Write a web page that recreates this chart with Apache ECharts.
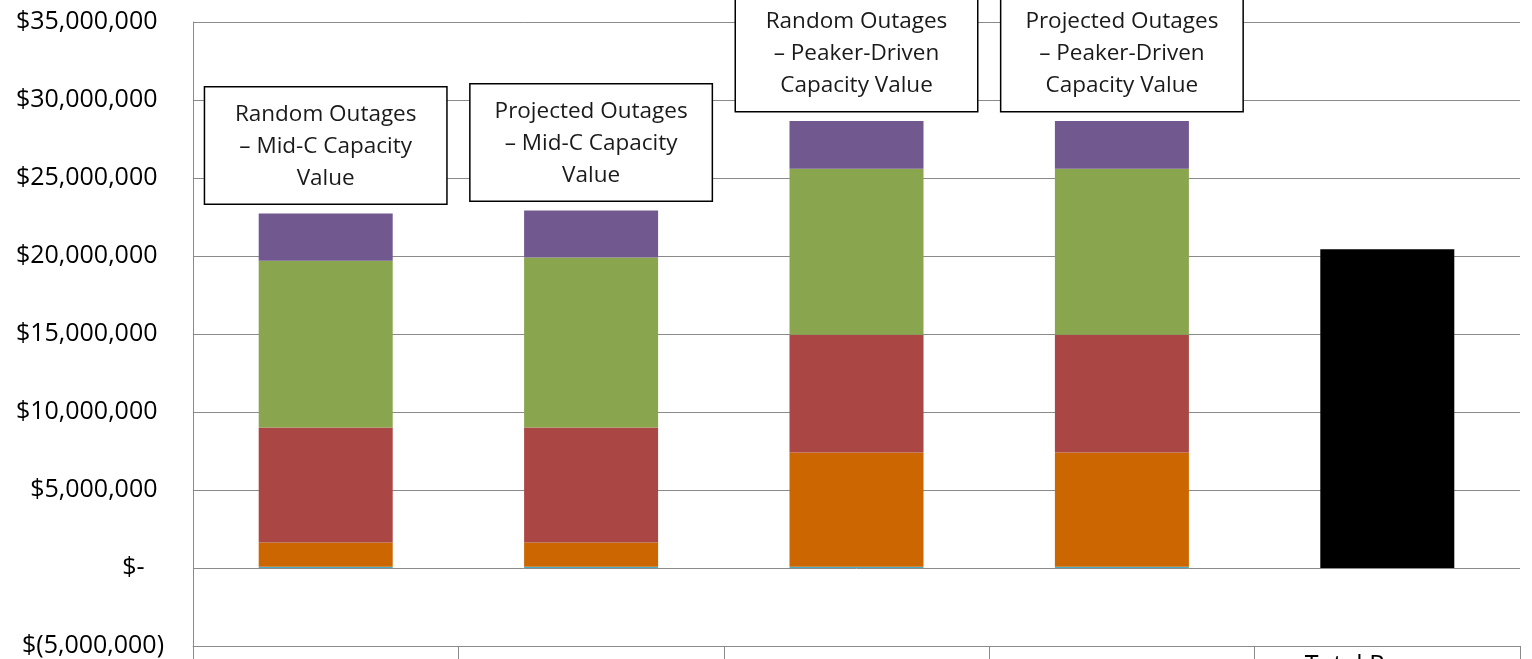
<!DOCTYPE html>
<html>
<head>
<meta charset="utf-8">
<script src="https://cdn.jsdelivr.net/npm/echarts@6/dist/echarts.min.js"></script>
<style>
  html, body { margin: 0; padding: 0; background: #fff; }
  #chart { width: 1532px; height: 659px; }
</style>
</head>
<body>
<div id="chart"></div>
<script>
// Scenario columns; the four stacked ones carry a boxed caption above the bar.
const categories = [
  'Random Outages – Mid-C Capacity Value',
  'Projected Outages – Mid-C Capacity Value',
  'Random Outages – Peaker-Driven Capacity Value',
  'Projected Outages – Peaker-Driven Capacity Value',
  'Total Revenue'
];
const captions = [
  'Random Outages\n– Mid-C Capacity\nValue',
  'Projected Outages\n– Mid-C Capacity\nValue',
  'Random Outages\n– Peaker-Driven\nCapacity Value',
  'Projected Outages\n– Peaker-Driven\nCapacity Value',
  ''
];

// Stacked value components (dollars), bottom to top.
const tealPart   = [80000, 80000, 80000, 80000, null];
const orangePart = [1550000, 1550000, 7320000, 7320000, null];
const redPart    = [7370000, 7370000, 7550000, 7550000, null];
const greenPart  = [10700000, 10900000, 10650000, 10650000, null];
const purplePart = [3020000, 3020000, 3050000, 3050000, null];
const totalBar   = [null, null, null, null, 20430000];

// Y axis range
const yMin = -5000000;
const yMax = 35000000;
const yStep = 5000000;

const FONT = '"Open Sans", "Liberation Sans", sans-serif';
const AXIS_GRAY = '#8a8a8a';

function money(v) {
  if (v === 0) return '$-   ';
  const s = Math.abs(v).toLocaleString('en-US');
  return v < 0 ? '$(' + s + ')' : '$' + s + ' ';
}

function part(name, data, color, extra) {
  return Object.assign({
    name: name,
    type: 'bar',
    stack: 'value',
    data: data,
    barWidth: 134,
    itemStyle: { color: color },
    emphasis: { disabled: true }
  }, extra || {});
}

const chart = echarts.init(document.getElementById('chart'), null, { renderer: 'canvas' });

chart.setOption({
  animation: false,
  backgroundColor: '#ffffff',
  grid: { left: 193, right: 12, top: 22, bottom: 13, containLabel: false, outerBoundsMode: 'none' },
  xAxis: {
    type: 'category',
    data: categories,
    axisLine: { onZero: false, lineStyle: { color: AXIS_GRAY, width: 1 } },
    axisTick: { show: true, length: 16, lineStyle: { color: AXIS_GRAY, width: 1 } },
    axisLabel: {
      margin: 7,
      fontFamily: FONT,
      fontSize: 25,
      color: '#000',
      interval: 0,
      formatter: function (val, idx) { return idx === 4 ? val : ''; }
    },
    splitLine: { show: false }
  },
  yAxis: {
    type: 'value',
    min: yMin,
    max: yMax,
    interval: yStep,
    axisLine: { show: true, lineStyle: { color: AXIS_GRAY, width: 1 } },
    axisTick: { show: false },
    splitLine: { show: true, lineStyle: { color: AXIS_GRAY, width: 1 } },
    axisLabel: {
      margin: 29,
      fontFamily: FONT,
      fontSize: 25,
      color: '#000',
      formatter: money
    }
  },
  series: [
    part('Teal', tealPart, '#4BACC6'),
    part('Orange', orangePart, '#CC6600'),
    part('Red', redPart, '#AA4643'),
    part('Green', greenPart, '#89A54E'),
    part('Purple', purplePart, '#71588F', {
      label: {
        show: true,
        position: 'top',
        distance: 10,
        formatter: function (p) { return captions[p.dataIndex]; },
        fontFamily: FONT,
        fontSize: 22.5,
        lineHeight: 32,
        color: '#1a1a1a',
        align: 'center',
        width: 221,
        padding: [11, 10, 9, 10],
        backgroundColor: '#ffffff',
        borderColor: '#000000',
        borderWidth: 1.5
      }
    }),
    part('Total', totalBar, '#000000')
  ]
});
</script>
</body>
</html>
